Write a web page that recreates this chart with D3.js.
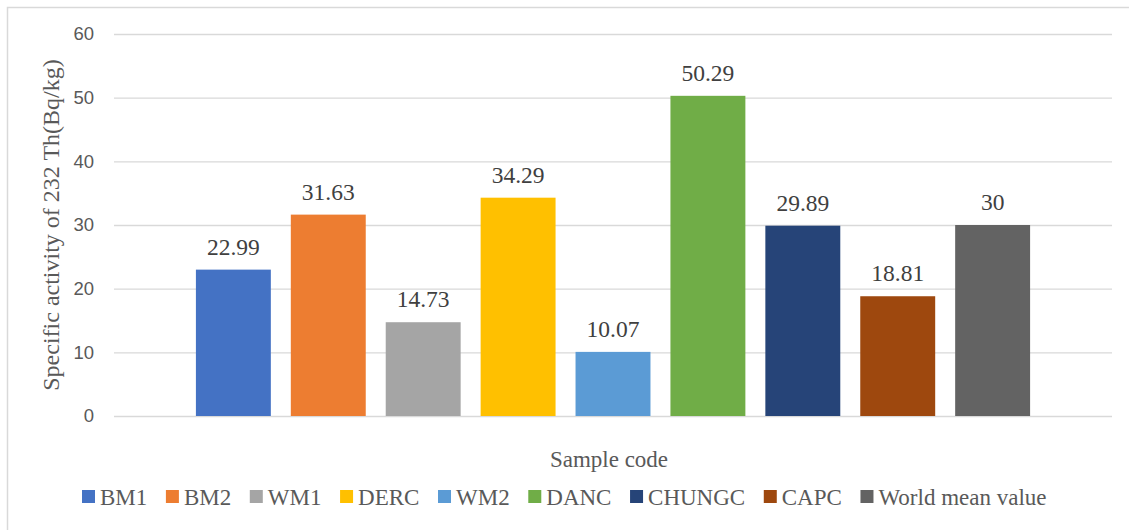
<!DOCTYPE html>
<html>
<head>
<meta charset="utf-8">
<script src="https://cdn.jsdelivr.net/npm/d3@7"></script>
<style>
  html, body { margin: 0; padding: 0; background: #fff; }
  svg { display: block; }
</style>
</head>
<body>
<svg id="chart" width="1129" height="530"></svg>
<script>
// Specific activity of 232Th per sample (Bq/kg)
const samples = ["BM1", "BM2", "WM1", "DERC", "WM2", "DANC", "CHUNGC", "CAPC", "World mean value"];
const activity = [22.99, 31.63, 14.73, 34.29, 10.07, 50.29, 29.89, 18.81, 30];
const yTicks = [0, 10, 20, 30, 40, 50, 60];
const colors = ["#4472C4", "#ED7D31", "#A5A5A5", "#FFC000", "#5B9BD5", "#70AD47", "#264478", "#9E480E", "#636363"];

const SERIF = '"Liberation Serif"';
const SANS = '"Liberation Sans"';

const svg = d3.select("#chart");
const W = 1129, H = 530;
const plot = { left: 114, right: 1112, top: 34, bottom: 416 };

// outer chart frame
svg.append("rect")
  .attr("x", 7.5).attr("y", 7.5)
  .attr("width", W).attr("height", H)
  .attr("fill", "#fff")
  .attr("stroke", "#d9d9d9").attr("stroke-width", 1.5);

const x = d3.scaleBand()
  .domain(samples)
  .range([plot.left, plot.right])
  .paddingInner(0.2105)
  .paddingOuter(0.863);

const y = d3.scaleLinear()
  .domain([0, 60])
  .range([plot.bottom, plot.top]);

// horizontal gridlines + tick labels
const yAxis = d3.axisLeft(y)
  .tickValues(yTicks)
  .tickSize(-(plot.right - plot.left))
  .tickPadding(20)
  .tickFormat(d3.format("d"));

const gy = svg.append("g")
  .attr("transform", `translate(${plot.left},0)`)
  .call(yAxis);
gy.select(".domain").remove();
gy.selectAll(".tick line")
  .attr("stroke", "#d9d9d9")
  .attr("stroke-width", 1.3);
gy.selectAll(".tick text")
  .attr("fill", "#595959")
  .style("font-family", SANS)
  .style("font-size", "18.5px");

// bars
svg.append("g").selectAll("rect")
  .data(samples)
  .join("rect")
  .attr("x", d => x(d))
  .attr("y", (d, i) => y(activity[i]))
  .attr("width", x.bandwidth())
  .attr("height", (d, i) => y(0) - y(activity[i]))
  .attr("fill", (d, i) => colors[i]);

// value labels
svg.append("g").selectAll("text")
  .data(samples)
  .join("text")
  .attr("x", d => x(d) + x.bandwidth() / 2)
  .attr("y", (d, i) => y(activity[i]) - 15)
  .attr("text-anchor", "middle")
  .attr("fill", "#404040")
  .style("font-family", SERIF)
  .style("font-size", "23.5px")
  .text((d, i) => String(activity[i]));

// axis titles
svg.append("text")
  .attr("transform", `translate(59,${(plot.top + plot.bottom) / 2}) rotate(-90)`)
  .attr("text-anchor", "middle")
  .attr("fill", "#595959")
  .style("font-family", SERIF)
  .style("font-size", "24px")
  .text("Specific activity of 232 Th(Bq/kg)");

svg.append("text")
  .attr("x", 609).attr("y", 467)
  .attr("text-anchor", "middle")
  .attr("fill", "#595959")
  .style("font-family", SERIF)
  .style("font-size", "23px")
  .text("Sample code");

// legend
const legend = svg.append("g");
let lx = 82;
samples.forEach((s, i) => {
  legend.append("rect")
    .attr("x", lx).attr("y", 490)
    .attr("width", 13).attr("height", 13)
    .attr("fill", colors[i]);
  const t = legend.append("text")
    .attr("x", lx + 18).attr("y", 505)
    .attr("fill", "#595959")
    .style("font-family", SERIF)
    .style("font-size", "23px")
    .text(s);
  lx += 18 + t.node().getComputedTextLength() + 18.6;
});
</script>
</body>
</html>
